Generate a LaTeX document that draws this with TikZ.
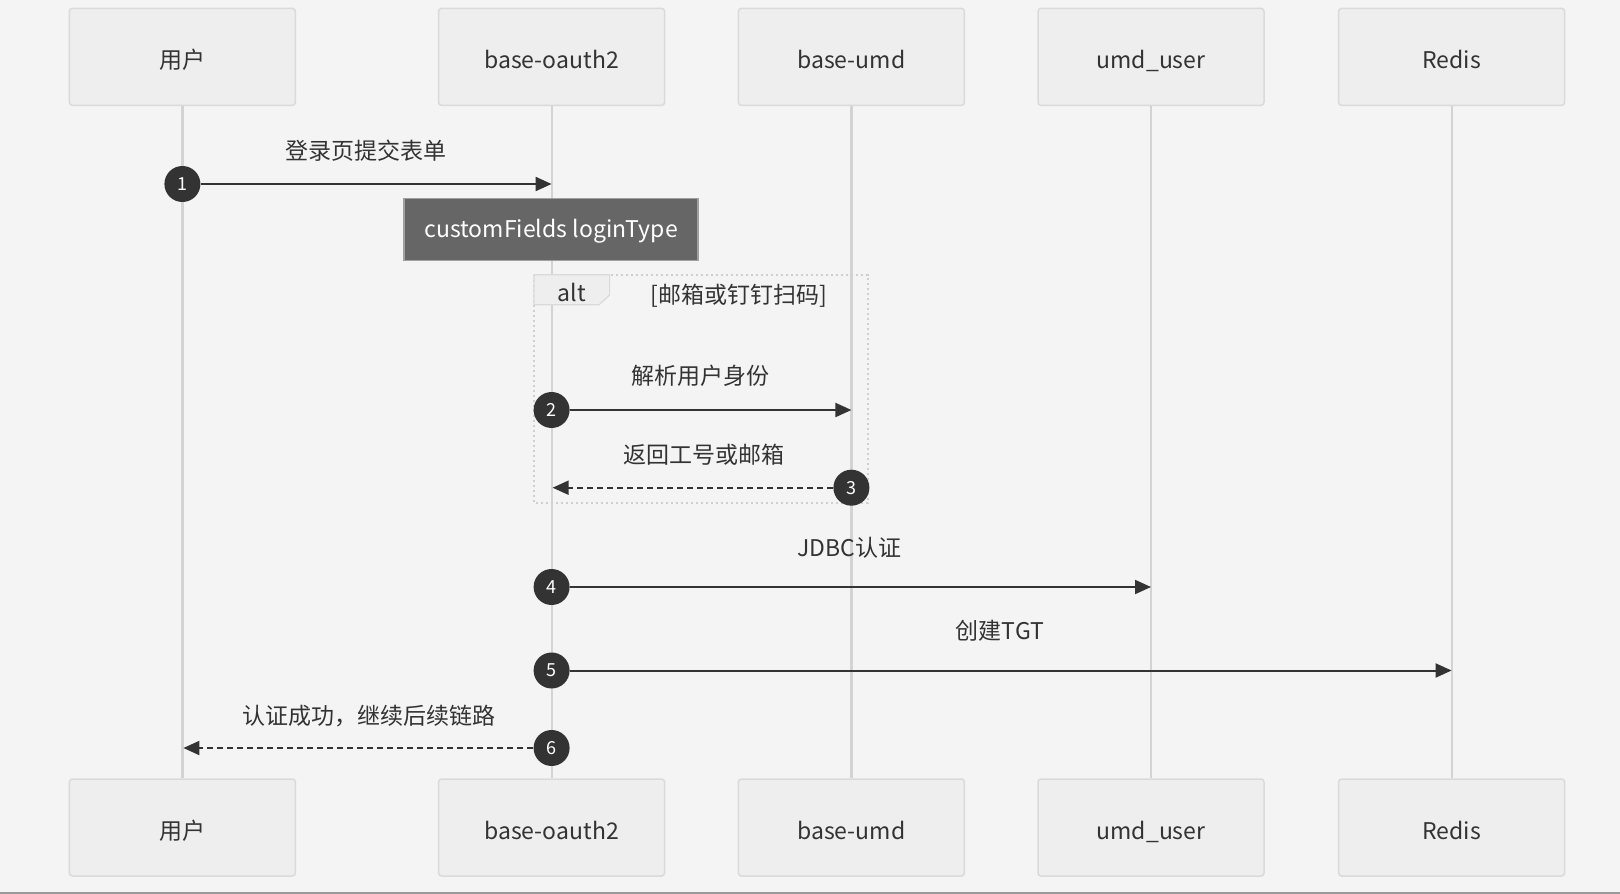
\documentclass[tikz,border=0pt]{standalone}
\usepackage{fontspec}
\setmainfont{Noto Sans CJK SC}
\usetikzlibrary{arrows.meta}
\definecolor{bg}{HTML}{F4F4F4}
\definecolor{boxfill}{HTML}{EEEEEE}
\definecolor{boxline}{HTML}{DADADA}
\definecolor{life}{HTML}{D3D3D3}
\definecolor{ink}{HTML}{333333}
\definecolor{notefill}{HTML}{666666}
\definecolor{noteline}{HTML}{A0A0A0}
\definecolor{altline}{HTML}{CFCFCF}
\tikzset{
  actor/.style={draw=boxline, line width=1.5pt, fill=boxfill, rounded corners=3pt,
    minimum width=226pt, minimum height=97pt, inner sep=0pt, text=ink,
    text height=23pt, text depth=0pt,
    font=\fontsize{23}{28}\selectfont},
  lifeln/.style={draw=life, line width=2.2pt},
  num/.style={circle, fill=ink, minimum size=36pt, inner sep=0pt, text=white,
    font=\fontsize{18}{20}\selectfont},
  msg/.style={draw=ink, line width=2pt, -{Triangle[length=16pt,width=14pt]}},
  reply/.style={msg, dash pattern=on 6pt off 4pt},
  lbl/.style={text=ink, inner sep=0pt, font=\fontsize{23}{28}\selectfont},
  note/.style={draw=noteline, line width=1.5pt, fill=notefill, text=white,
    minimum width=294pt, minimum height=62pt, inner sep=0pt,
    text height=20pt, text depth=4pt,
    font=\fontsize{23}{28}\selectfont},
  altframe/.style={draw=altline, line width=2.5pt, dash pattern=on 2.5pt off 2.5pt},
}
\begin{document}
\begin{tikzpicture}[x=1pt,y=-1pt]
\useasboundingbox (0,0) rectangle (1620,894);
\fill[bg] (0,0) rectangle (1620,894);
\draw[color=gray!80, line width=2pt] (0,893) -- (1620,893);
% actors
\node[actor] (t1) at (182.4,56.9) {用户};
\node[actor] (t2) at (551.6,56.9) {base-oauth2};
\node[actor] (t3) at (851.4,56.9) {base-umd};
\node[actor] (t4) at (1151,56.9) {umd\_user};
\node[actor] (t5) at (1451.6,56.9) {Redis};
\node[actor] (b1) at (182.4,827.5) {用户};
\node[actor] (b2) at (551.6,827.5) {base-oauth2};
\node[actor] (b3) at (851.4,827.5) {base-umd};
\node[actor] (b4) at (1151,827.5) {umd\_user};
\node[actor] (b5) at (1451.6,827.5) {Redis};
\draw[lifeln] (t1.south) -- (b1.north);
\draw[lifeln] (t2.south) -- (b2.north);
\draw[lifeln] (t3.south) -- (b3.north);
\draw[lifeln] (t4.south) -- (b4.north);
\draw[lifeln] (t5.south) -- (b5.north);
% message 1
\node[lbl] (l1) at (366,151) {登录页提交表单};
\node[num] (c1) at (182.4,184) {1};
\coordinate (e1) at (551.6,184);
\draw[msg] (c1) -- (e1);
% note
\node[note] (n1) at (551.2,229.4) {customFields loginType};
% alt frame
\draw[altframe] (534,274.8) rectangle (868,503);
\draw[boxline, line width=1.2pt, fill=boxfill] (534,274.8) -- (609.6,274.8) -- (609.6,295) -- (599,304.8) -- (534,304.8) -- cycle;
\node[lbl] (alt) at (572,292) {alt};
\node[lbl] (cond) at (739,296) {[邮箱或钉钉扫码]};
% message 2
\node[lbl] (l2) at (700.5,376) {解析用户身份};
\node[num] (c2) at (551.6,410) {2};
\coordinate (e2) at (851.4,410);
\draw[msg] (c2) -- (e2);
% message 3
\node[lbl] (l3) at (703.6,454.6) {返回工号或邮箱};
\node[num] (c3) at (851.4,487.7) {3};
\coordinate (e3) at (552.6,487.7);
\draw[reply] (c3) -- (e3);
% message 4
\node[lbl] (l4) at (849.3,547.6) {JDBC认证};
\node[num] (c4) at (551.6,587) {4};
\coordinate (e4) at (1151,587);
\draw[msg] (c4) -- (e4);
% message 5
\node[lbl] (l5) at (1000,631) {创建TGT};
\node[num] (c5) at (551.6,670.5) {5};
\coordinate (e5) at (1451.6,670.5);
\draw[msg] (c5) -- (e5);
% message 6
\node[lbl] (l6) at (369,716) {认证成功，继续后续链路};
\node[num] (c6) at (551.6,748) {6};
\coordinate (e6) at (183.4,748);
\draw[reply] (c6) -- (e6);
\end{tikzpicture}
\end{document}
